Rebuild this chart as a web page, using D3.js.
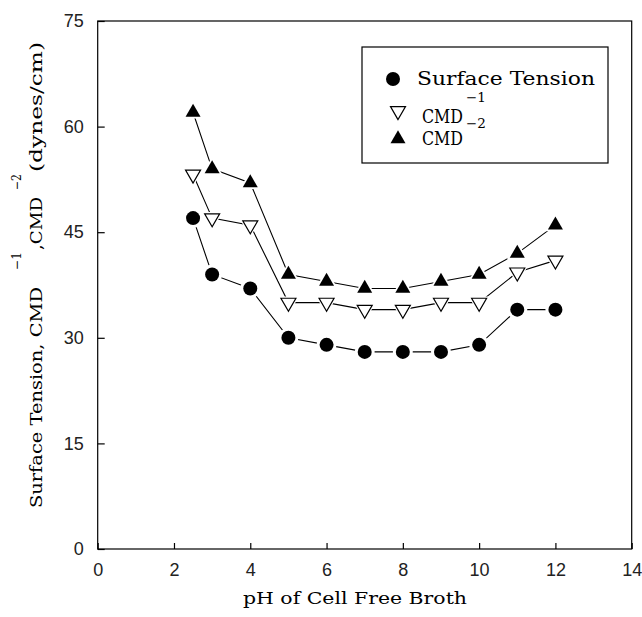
<!DOCTYPE html>
<html><head><meta charset="utf-8">
<script src="https://cdn.jsdelivr.net/npm/d3@7"></script>
<style>body{margin:0;background:#fff}</style>
</head><body>
<svg id="c" width="642" height="617"></svg>
<script>
const ph = [2.5, 3, 4, 5, 6, 7, 8, 9, 10, 11, 12];
const surfaceTension = [47, 39, 37, 30, 29, 28, 28, 28, 29, 34, 34];
const cmdInv1 = [53.2, 47, 46, 35, 35, 34, 34, 35, 35, 39.3, 41];
const cmdInv2 = [62, 54, 52, 39, 38, 37, 37, 38, 39, 42, 46];
const xTicks = [0, 2, 4, 6, 8, 10, 12, 14];
const yTicks = [0, 15, 30, 45, 60, 75];

const svg = d3.select("#c");
const L = 97.7, R = 631.7, T = 21, B = 549;
const x = d3.scaleLinear().domain([0, 14]).range([L, R]);
const y = d3.scaleLinear().domain([0, 75]).range([B, T]);
const serif = "'DejaVu Serif', 'Liberation Serif', serif";
const sans = "'Liberation Sans', Arial, sans-serif";

// frame
svg.append("rect").attr("x", L).attr("y", T).attr("width", R - L).attr("height", B - T)
  .attr("fill", "none").attr("stroke", "#000").attr("stroke-width", 1.2);

// axes (ticks inward)
const xAxis = svg.append("g").attr("transform", `translate(0,${B})`)
  .call(d3.axisBottom(x).tickValues(xTicks).tickSizeInner(-6).tickSizeOuter(0).tickPadding(14).tickFormat(d3.format("d")));
const yAxis = svg.append("g").attr("transform", `translate(${L},0)`)
  .call(d3.axisLeft(y).tickValues(yTicks).tickSizeInner(-7).tickSizeOuter(0).tickPadding(14).tickFormat(d3.format("d")));
[xAxis, yAxis].forEach(a => {
  a.select(".domain").remove();
  a.selectAll("line").attr("stroke", "#000").attr("stroke-width", 1.2);
  a.selectAll("text").attr("font-family", sans).attr("font-size", 18).attr("fill", "#222");
});

// lines and markers
const series = [
  { vals: surfaceTension, type: "circle" },
  { vals: cmdInv1, type: "down" },
  { vals: cmdInv2, type: "up" }
];
const line = d3.line().x(d => x(d[0])).y(d => y(d[1]));
series.forEach(s => {
  svg.append("path").datum(ph.map((p, i) => [p, s.vals[i]]))
    .attr("d", line).attr("fill", "none").attr("stroke", "#000").attr("stroke-width", 1.1);
});
function drawMarker(g, type, cx, cy, halo) {
  const pad = halo ? 3 : 0;
  if (type === "circle") {
    g.append("circle").attr("cx", cx).attr("cy", cy).attr("r", 7 + pad)
      .attr("fill", halo ? "#fff" : "#000");
  } else {
    const s = 15 + pad * 2;
    const sym = d3.symbol().type(d3.symbolTriangle).size(Math.sqrt(3) / 4 * s * s);
    const p = g.append("path").attr("d", sym())
      .attr("transform", `translate(${cx},${cy})` + (type === "down" ? " rotate(180)" : ""));
    if (halo) p.attr("fill", "#fff");
    else if (type === "up") p.attr("fill", "#000");
    else p.attr("fill", "#fff").attr("stroke", "#000").attr("stroke-width", 1.2);
  }
}
series.forEach(s => {
  const g = svg.append("g");
  ph.forEach((p, i) => drawMarker(g, s.type, x(p), y(s.vals[i]), true));
});
series.forEach(s => {
  const g = svg.append("g");
  ph.forEach((p, i) => drawMarker(g, s.type, x(p), y(s.vals[i]), false));
});

// legend
const lg = svg.append("g");
lg.append("rect").attr("x", 362).attr("y", 47).attr("width", 246).attr("height", 116)
  .attr("fill", "#fff").attr("stroke", "#000").attr("stroke-width", 1.2);
drawMarker(lg, "circle", 393, 79, false);
drawMarker(lg, "down", 398, 111, false);
drawMarker(lg, "up", 398, 139, false);
function txt(g, x0, y0, size, str, len) {
  const t = g.append("text").attr("x", x0).attr("y", y0).attr("font-family", serif)
    .attr("font-size", size).attr("fill", "#000").text(str);
  if (len) t.attr("textLength", len).attr("lengthAdjust", "spacingAndGlyphs");
  return t;
}
txt(lg, 417, 85, 19, "Surface Tension", 178);
txt(lg, 422, 123, 18, "CMD", 41);
txt(lg, 466, 102, 13, "\u22121", 20);
txt(lg, 422, 145, 18, "CMD", 41);
txt(lg, 466, 128, 13, "\u22122", 20);

// axis titles
txt(svg, 243, 604, 17, "pH of Cell Free Broth", 224);
const yl = svg.append("g").attr("transform", "translate(42,508) rotate(-90)");
txt(yl, 0, 0, 17, "Surface Tension, CMD", 221);
txt(yl, 238, -21, 12.5, "\u22121", 18);
txt(yl, 258, 0, 17, ",CMD", 53);
txt(yl, 318, -21, 12.5, "\u22122", 16);
txt(yl, 336, 0, 17, "(dynes/cm)", 130);
</script>
</body></html>
